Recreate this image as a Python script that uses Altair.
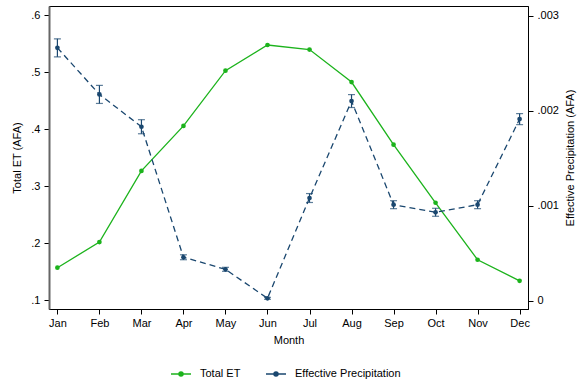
import json
import altair as alt
import pandas as pd

months = ["Jan", "Feb", "Mar", "Apr", "May", "Jun", "Jul", "Aug", "Sep", "Oct", "Nov", "Dec"]
month_num = list(range(1, 13))
total_et = [0.157, 0.202, 0.327, 0.406, 0.503, 0.548, 0.540, 0.483, 0.373, 0.271, 0.171, 0.134]
eff_precip = [0.00266, 0.00217, 0.00183, 0.000457, 0.00033, 0.000025,
              0.00108, 0.00210, 0.00101, 0.00093, 0.00101, 0.00191]
eff_err = [0.000095, 0.000095, 0.000074, 0.000026, 0.000021, 0.000010,
           0.000047, 0.000068, 0.000042, 0.000042, 0.000042, 0.000058]
series_names = ["Total ET", "Effective Precipitation"]
series_colors = ["#1cb31c", "#1a476f"]

et_df = pd.DataFrame({"m": month_num, "v": total_et, "series": series_names[0]})
pr_df = pd.DataFrame({"m": month_num, "v": eff_precip, "e": eff_err, "series": series_names[1]})

FONT = "Liberation Sans"

x_enc = alt.X(
    "m:Q",
    scale=alt.Scale(domain=[0.8, 12.2], nice=False, zero=False),
    axis=alt.Axis(values=month_num, labelExpr=f"{json.dumps(months)}[datum.value - 1]",
                  title="Month", tickSize=5, labelPadding=3, titlePadding=6),
)

legend_path = ("M-1,0H1 M-0.2,0a0.2,0.2 0 1,0 0.4,0a0.2,0.2 0 1,0 -0.4,0 "
               "M-0.1,0a0.1,0.1 0 1,0 0.2,0a0.1,0.1 0 1,0 -0.2,0")

color_scale = alt.Scale(domain=series_names, range=series_colors)
color_legend = alt.Color(
    "series:N", scale=color_scale, sort=series_names,
    legend=alt.Legend(title=None, orient="none", direction="horizontal",
                      legendX=121, legendY=357, symbolType=legend_path,
                      symbolSize=400, symbolStrokeWidth=1.5, labelOffset=8,
                      columnPadding=22, labelFontSize=11, labelFont=FONT),
)
color_nolegend = alt.Color("series:N", scale=color_scale, legend=None)

left_axis = alt.Axis(values=[0.1, 0.2, 0.3, 0.4, 0.5, 0.6],
                     labelExpr="replace(format(datum.value, '.1f'), '0.', '.')",
                     title="Total ET (AFA)", orient="left", tickSize=5, labelPadding=4,
                     titlePadding=8, domainColor="#666666", domainWidth=2)
left_scale = alt.Scale(domain=[0.0845, 0.6165], nice=False, zero=False)

right_axis = alt.Axis(values=[0, 0.001, 0.002, 0.003],
                      labelExpr="datum.value == 0 ? '0' : replace(format(datum.value, '.3f'), '0.', '.')",
                      title="Effective Precipitation (AFA)", orient="right", tickSize=5,
                      labelPadding=4, titlePadding=17, titleAngle=270)
right_scale = alt.Scale(domain=[-0.0000874, 0.0031], nice=False, zero=False)

et_base = alt.Chart(et_df)
et_line = et_base.mark_line(strokeWidth=1.3).encode(
    x=x_enc, y=alt.Y("v:Q", scale=left_scale, axis=left_axis), color=color_legend)
et_pts = et_base.mark_point(filled=True, size=22, opacity=1).encode(
    x=x_enc, y=alt.Y("v:Q", scale=left_scale, axis=left_axis), color=color_nolegend)
left_layer = alt.layer(et_line, et_pts)

pr_base = alt.Chart(pr_df).transform_calculate(lo="datum.v - datum.e", hi="datum.v + datum.e")
pr_line = pr_base.mark_line(strokeWidth=1.3, strokeDash=[6, 4]).encode(
    x=x_enc, y=alt.Y("v:Q", scale=right_scale, axis=right_axis), color=color_nolegend)
pr_pts = pr_base.mark_point(filled=True, size=22, opacity=1).encode(
    x=x_enc, y=alt.Y("v:Q", scale=right_scale, axis=right_axis), color=color_nolegend)
pr_rule = pr_base.mark_rule(strokeWidth=1.2).encode(
    x=x_enc, y=alt.Y("lo:Q", scale=right_scale, axis=right_axis), y2="hi:Q", color=color_nolegend)
pr_cap_lo = pr_base.mark_tick(orient="horizontal", size=7, thickness=1.2).encode(
    x=x_enc, y=alt.Y("lo:Q", scale=right_scale, axis=right_axis), color=color_nolegend)
pr_cap_hi = pr_base.mark_tick(orient="horizontal", size=7, thickness=1.2).encode(
    x=x_enc, y=alt.Y("hi:Q", scale=right_scale, axis=right_axis), color=color_nolegend)
right_layer = alt.layer(pr_line, pr_rule, pr_cap_lo, pr_cap_hi, pr_pts)

chart = alt.layer(left_layer, right_layer).resolve_scale(y="independent").properties(
    width=479, height=303,
    autosize=alt.AutoSizeParams(type="none"),
    padding={"left": 49, "top": 6, "right": 54, "bottom": 74},
    background="white",
).configure_view(stroke="black", strokeWidth=1).configure_axis(
    grid=False, domainColor="black", tickColor="black", labelColor="black",
    titleColor="black", labelFont=FONT, titleFont=FONT, labelFontSize=11,
    titleFontSize=11, titleFontWeight="normal",
)

chart.save("out.html", embed_options={"renderer": "svg", "actions": False})
